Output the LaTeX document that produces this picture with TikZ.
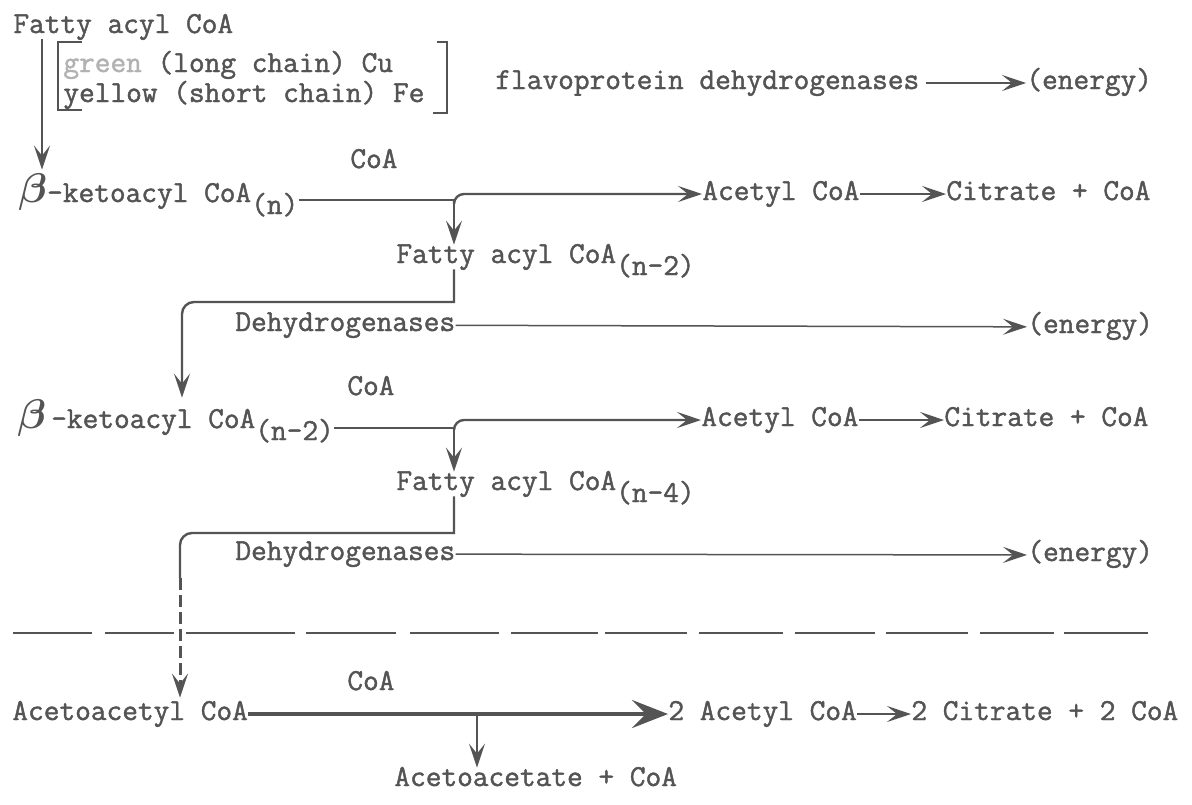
\documentclass[tikz,border=0pt]{standalone}
\usepackage{fontspec}
\usepackage{bm}
\newfontfamily\typer{Latin Modern Mono}[AutoFakeBold=1.4]
\usetikzlibrary{arrows.meta}
\definecolor{ink}{gray}{0.33}
\newcommand{\bet}{{\fontsize{20}{20}\selectfont$\bm{\beta}$}}
\newcommand{\lowsub}[1]{\raisebox{-6pt}{(#1)}}

\begin{document}
\begin{tikzpicture}[x=0.5pt,y=-0.5pt,
 txt/.style={anchor=base west,inner sep=0pt,text height=9pt,text depth=3pt,text=ink,font=\typer\bfseries\fontsize{15.24}{18}\selectfont},
 con/.style={draw=ink,line width=1.2pt},
 thin/.style={draw=ink,line width=0.75pt},
 tip/.style={-{Stealth[length=12pt,width=8pt,inset=5pt]}},
 bigtip/.style={-{Stealth[length=18pt,width=14pt,inset=7pt]}}]
 \useasboundingbox[fill=white] (0,0) rectangle (1192,804);
 \node[txt] (fatty0) at (13,33) {Fatty acyl CoA};
 \node[txt] (green) at (63,72) {\textcolor{ink!45}{green} (long chain) Cu};
 \node[txt] (yellow) at (63,102) {yellow (short chain) Fe};
 \draw[con,line width=1.4pt] (82,42) -- (58,42) -- (58,110) -- (82,110);
 \draw[con,line width=1.4pt] (437,42) -- (447,42) -- (447,113) -- (433,113);
 \node[txt] (flav) at (495,89) {flavoprotein dehydrogenases};
 \node[txt] (energy0) at (1026,89) {(energy)};
 \draw[thin,tip,shorten <=3pt] (flav) -- (energy0);
 \node[txt] (beta1) at (18,202) {\bet-ketoacyl CoA\lowsub{n}};
 \coordinate (c0) at (42,0);
 \draw[con,tip,shorten >=7pt] (fatty0.south -| c0) -- (beta1.north -| c0);
 \node[txt] (coa1) at (350,168) {CoA};
 \node[txt] (acet1) at (702,200) {Acetyl CoA};
 \node[txt] (cit1) at (946,200) {Citrate + CoA};
 \coordinate (j1) at (454,200);
 \draw[con] (beta1.east |- j1) -- (j1);
 \draw[con,tip,rounded corners=5pt] (j1) |- (acet1);
 \draw[con,tip] (acet1) -- (cit1);
 \node[txt] (fatty2) at (396,263) {Fatty acyl CoA\lowsub{n-2}};
 \draw[con,tip] (j1) -- (j1 |- fatty2.north);
 \node[txt] (deh1) at (235,331) {Dehydrogenases};
 \node[txt] (energy1) at (1027,333) {(energy)};
 \draw[thin,tip] (deh1) -- (energy1);
 \node[txt] (beta2) at (17,428) {\bet\,-ketoacyl CoA\lowsub{n-2}};
 \coordinate (k1) at (182,302);
 \draw[con,tip,shorten >=6pt] (fatty2.south -| j1) -- (j1 |- k1) [rounded corners=6pt] -- (k1) -- (k1 |- beta2.north);
 \node[txt] (coa2) at (347,395) {CoA};
 \node[txt] (acet2) at (701,426) {Acetyl CoA};
 \node[txt] (cit2) at (944,426) {Citrate + CoA};
 \coordinate (j2) at (454,428);
 \draw[con] (beta2.east |- j2) -- (j2);
 \draw[con,tip,rounded corners=5pt] (j2) |- (acet2);
 \draw[con,tip] (acet2) -- (cit2);
 \node[txt] (fatty4) at (396,490) {Fatty acyl CoA\lowsub{n-4}};
 \draw[con,tip] (j2) -- (j2 |- fatty4.north);
 \node[txt] (deh2) at (235,560) {Dehydrogenases};
 \node[txt] (energy2) at (1027,561) {(energy)};
 \draw[thin,tip] (deh2) -- (energy2);
 \coordinate (k2) at (180,533);
 \coordinate (d1) at (180,578);
 \draw[con] (fatty4.south -| j2) -- (j2 |- k2) [rounded corners=6pt] -- (k2) -- (d1);
 \foreach \a/\b in {13/92,105/174,186/295,306/396,410/499,511/598,605/687,699/783,795/875,886/968,980/1054,1064/1148}
  \draw[thin] (\a,633) -- (\b,633);
 \node[txt] (coa3) at (347,690) {CoA};
 \node[txt] (aca) at (12,720) {Acetoacetyl CoA};
 \node[txt] (acet3) at (668,720) {2 Acetyl CoA};
 \node[txt] (cit3) at (911,720) {2 Citrate + 2 CoA};
 \draw[con,line width=1.5pt,dash pattern=on 6pt off 2.5pt,tip,shorten >=2pt] (d1) -- (d1 |- aca.north);
 \draw[draw=ink,line width=2.3pt,bigtip] (aca) -- (acet3);
 \draw[con,tip] (acet3) -- (cit3);
 \coordinate (j3) at (477,714);
 \node[txt] (acac) at (394,786) {Acetoacetate + CoA};
 \draw[thin,tip] (j3) -- (j3 |- acac.north);
\end{tikzpicture}
\end{document}
